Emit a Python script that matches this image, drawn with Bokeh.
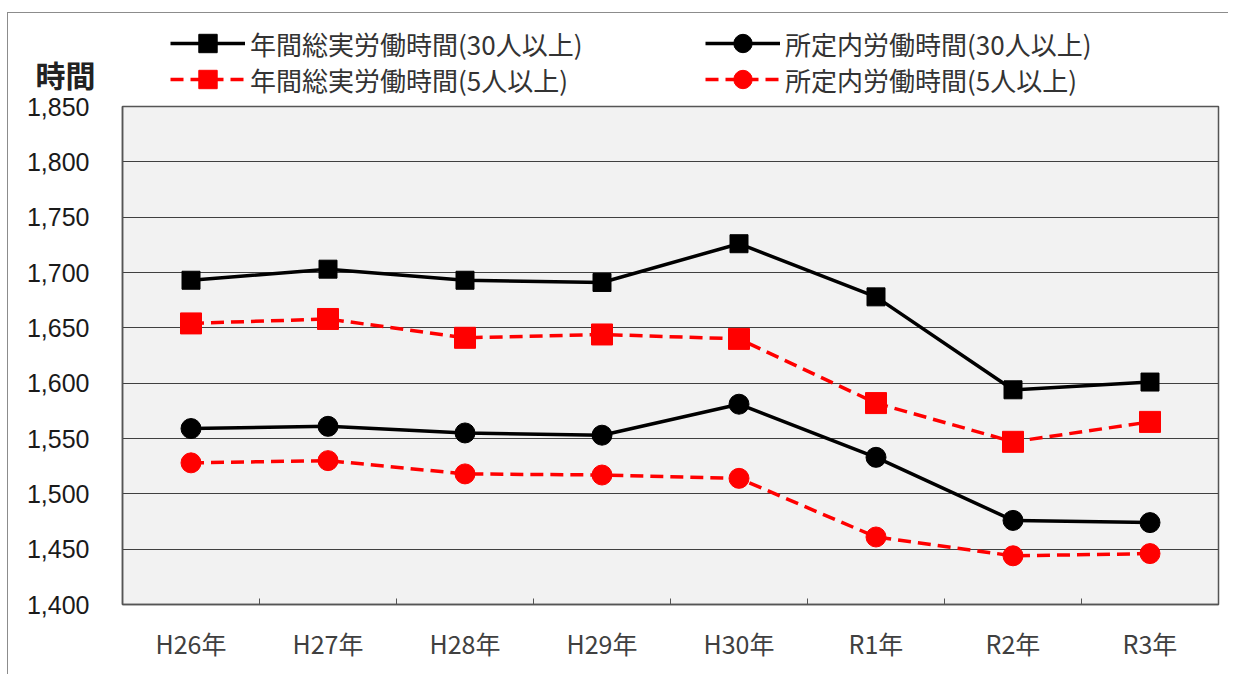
from bokeh.plotting import figure
from bokeh.layouts import column
from bokeh.models import Range1d, FixedTicker, Legend, LegendItem
from bokeh.embed import file_html
from bokeh.resources import INLINE

categories = ["H26年", "H27年", "H28年", "H29年", "H30年", "R1年", "R2年", "R3年"]
total_30 = [1693, 1703, 1693, 1691, 1726, 1678, 1594, 1601]
total_5 = [1654, 1658, 1641, 1644, 1640, 1582, 1547, 1565]
sched_30 = [1559, 1561, 1555, 1553, 1581, 1533, 1476, 1474]
sched_5 = [1528, 1530, 1518, 1517, 1514, 1461, 1444, 1446]
y_ticks = [1400, 1450, 1500, 1550, 1600, 1650, 1700, 1750, 1800, 1850]
series_labels = ["年間総実労働時間(30人以上)", "年間総実労働時間(5人以上)",
                 "所定内労働時間(30人以上)", "所定内労働時間(5人以上)"]
unit_label = "時間"

xs = list(range(len(categories)))
nan = float("nan")

styles_spec = [
    dict(color="black", dash="solid", marker="square", size=18),
    dict(color="#ff0000", dash="13 7", marker="square", size=21),
    dict(color="black", dash="solid", marker="circle", size=20),
    dict(color="#ff0000", dash="13 7", marker="circle", size=20),
]

# ---------- main chart ----------
p = figure(width=1220, height=582, output_backend="svg", toolbar_location=None,
           x_range=Range1d(-0.5, len(categories) - 0.5), y_range=Range1d(1400, 1850),
           min_border_left=114, min_border_right=10, min_border_top=14, min_border_bottom=70)
p.background_fill_color = "#f2f2f2"
p.border_fill_alpha = 0
p.outline_line_color = "#555555"
p.outline_line_width = 1.5

p.xaxis.ticker = FixedTicker(ticks=xs, minor_ticks=[i + 0.5 for i in xs[:-1]])
p.xaxis.major_label_overrides = {i: c for i, c in enumerate(categories)}
p.xaxis.major_tick_in = 0
p.xaxis.major_tick_out = 0
p.xaxis.minor_tick_in = 6
p.xaxis.minor_tick_out = 0
p.xaxis.minor_tick_line_color = "#555555"
p.xaxis.axis_line_color = "#555555"
p.xaxis.axis_line_width = 1.5
p.xaxis.major_label_text_font = "Noto Sans CJK JP"
p.xaxis.major_label_text_font_size = "25px"
p.xaxis.major_label_text_color = "#404040"
p.xaxis.major_label_standoff = 20

p.yaxis.ticker = FixedTicker(ticks=y_ticks)
p.yaxis.major_label_overrides = {v: f"{v:,}" for v in y_ticks}
p.yaxis.major_tick_in = 0
p.yaxis.major_tick_out = 0
p.yaxis.minor_tick_line_color = None
p.yaxis.axis_line_color = "#555555"
p.yaxis.axis_line_width = 1.5
p.yaxis.major_label_text_font = "Liberation Sans"
p.yaxis.major_label_text_font_size = "25px"
p.yaxis.major_label_text_color = "#1a1a1a"
p.yaxis.major_label_standoff = 33

p.xgrid.grid_line_color = None
p.ygrid.grid_line_color = "#404040"
p.ygrid.grid_line_width = 1.2

for vals, st in zip([total_30, total_5, sched_30, sched_5], styles_spec):
    p.line(xs, vals, line_color=st["color"], line_width=3.5, line_dash=st["dash"])
    p.scatter(xs, vals, marker=st["marker"], size=st["size"],
              fill_color=st["color"], line_color=st["color"])

# ---------- header: legend and unit label ----------
head = figure(width=1220, height=91, output_backend="svg", toolbar_location=None,
              x_range=Range1d(0, 1), y_range=Range1d(0, 91),
              min_border_left=114, min_border_right=10, min_border_top=0, min_border_bottom=0)
head.styles = {"margin-bottom": "-12px"}
head.xaxis.visible = False
head.grid.visible = False
head.outline_line_color = None
head.background_fill_alpha = 0
head.border_fill_alpha = 0

# unit label drawn as the header's own left axis label (single tick)
head.yaxis.ticker = FixedTicker(ticks=[31])
head.yaxis.major_label_overrides = {31: unit_label}
head.yaxis.major_tick_in = 0
head.yaxis.major_tick_out = 0
head.yaxis.minor_tick_line_color = None
head.yaxis.axis_line_color = None
head.yaxis.major_label_standoff = 27
head.yaxis.major_label_text_font = "Noto Sans CJK JP"
head.yaxis.major_label_text_font_size = "30px"
head.yaxis.major_label_text_font_style = "bold"
head.yaxis.major_label_text_color = "#222222"

items = []
for lab, st in zip(series_labels, styles_spec):
    lr = head.line([nan], [nan], line_color=st["color"], line_width=3.5, line_dash=st["dash"])
    sr = head.scatter([nan], [nan], marker=st["marker"], size=st["size"],
                      fill_color=st["color"], line_color=st["color"])
    items.append(LegendItem(label=lab, renderers=[lr, sr]))

def make_legend(item, loc):
    return Legend(items=[item], location=loc, orientation="vertical",
                  glyph_width=75, glyph_height=46, label_height=22, spacing=0,
                  padding=0, margin=0, border_line_color=None, background_fill_alpha=0,
                  label_text_font="Noto Sans CJK JP", label_text_font_size="26px",
                  label_text_color="#333333", label_standoff=5)

# one legend per cell: (column offset, row offset) in header pixels
legend_locs = [(48, 38), (48, 2), (583, 38), (583, 2)]
for item, loc in zip(items, legend_locs):
    head.add_layout(make_legend(item, loc), "center")

layout = column(head, p, spacing=0,
                styles={"border-left": "1px solid #8c8c8c", "border-top": "1px solid #8c8c8c",
                        "margin-top": "12px", "margin-left": "7px"})

open("out.html", "w").write(file_html(layout, INLINE))
